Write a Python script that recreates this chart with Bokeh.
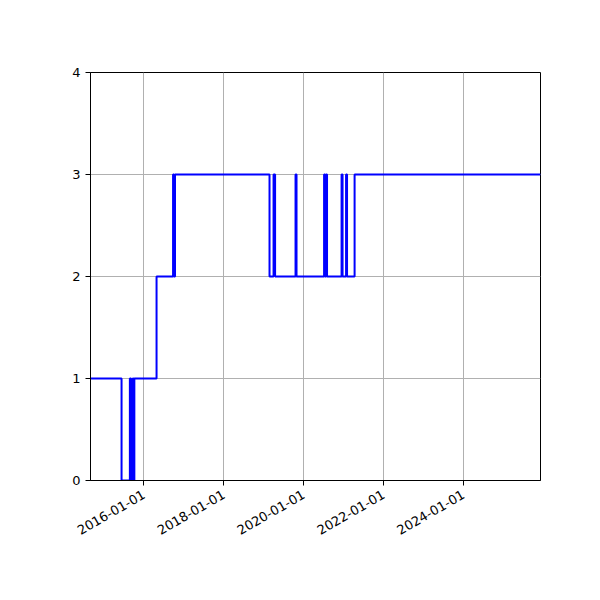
import math
from datetime import datetime

import pandas as pd
from bokeh.plotting import figure
from bokeh.models import Range1d, FixedTicker, DatetimeTickFormatter
from bokeh.embed import file_html
from bokeh.resources import INLINE

# 数据：状态切换的日期和对应的取值
change_dates = [
    "2014-08-30", "2015-06-10", "2015-08-25", "2015-09-05", "2015-09-20",
    "2015-09-28", "2015-10-05", "2016-04-25", "2016-09-23", "2016-10-02",
    "2016-10-11", "2019-02-22", "2019-03-31", "2019-04-14", "2019-10-18",
    "2019-10-27", "2020-07-05", "2020-07-14", "2020-07-23", "2020-08-01",
    "2020-12-12", "2020-12-21", "2021-01-22", "2021-01-31", "2021-04-10",
    "2025-12-05",
]
levels = [
    1, 0, 1, 0, 1,
    0, 1, 2, 3, 2,
    3, 2, 3, 2, 3,
    2, 3, 2, 3, 2,
    3, 2, 3, 2, 3,
    3,
]
x_ticks = ["2016-01-01", "2018-01-01", "2020-01-01", "2022-01-01", "2024-01-01"]
y_ticks = [0, 1, 2, 3, 4]


def to_ms(s):
    return pd.Timestamp(s).value / 1e6


dt = pd.to_datetime(change_dates)

p = figure(width=584, height=584,
           x_axis_type='datetime',
           x_range=Range1d(datetime(2014, 8, 30), datetime(2025, 12, 5)),
           y_range=Range1d(0, 4),
           output_backend="svg", toolbar_location=None,
           min_border_left=90, min_border_right=44,
           min_border_top=72, min_border_bottom=104)

p.step(dt, levels, mode="after", line_width=2, color="#0000ff")

# 坐标轴
p.xaxis.ticker = FixedTicker(ticks=[to_ms(t) for t in x_ticks])
p.xaxis.formatter = DatetimeTickFormatter(years="%Y-%m-%d", months="%Y-%m-%d",
                                          days="%Y-%m-%d")
p.xaxis.major_label_orientation = math.pi / 6
p.xaxis.major_label_standoff = 8
p.yaxis.ticker = FixedTicker(ticks=y_ticks)

for ax in [p.xaxis[0], p.yaxis[0]]:
    ax.major_label_text_font = "DejaVu Sans"
    ax.major_label_text_font_size = "13px"
    ax.major_label_text_color = "black"
    ax.axis_line_color = "black"
    ax.major_tick_line_color = "black"
    ax.major_tick_in = 0
    ax.major_tick_out = 5
    ax.minor_tick_line_color = None

p.grid.grid_line_color = "#b0b0b0"
p.grid.grid_line_width = 1
p.outline_line_color = "black"
p.outline_line_alpha = 1
p.background_fill_color = "white"
p.border_fill_color = "white"

open("out.html", "w").write(file_html(p, INLINE))
